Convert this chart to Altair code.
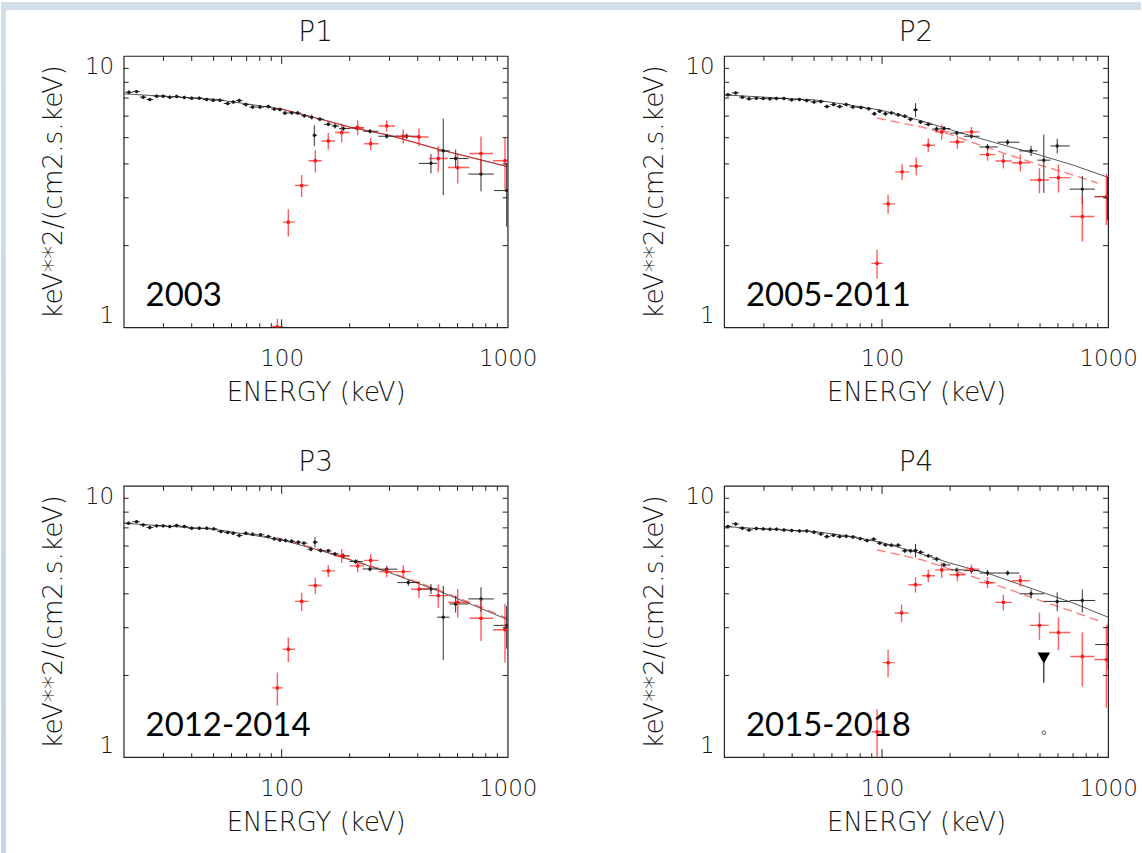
import altair as alt
import numpy as np
import pandas as pd

# ---------------- data ----------------
PANEL_TITLES = ["P1", "P2", "P3", "P4"]
YEARS = ["2003", "2005-2011", "2012-2014", "2015-2018"]

# P1 (2003)
P1_BLACK_E = [21.1, 22.8, 24.4, 26.1, 28.0, 29.9, 32.0, 34.3, 37.1, 40.0,
              43.2, 46.6, 49.8, 53.3, 57.7, 61.1, 64.9, 69.5, 74.4, 80.2,
              87.3, 92.8, 98.3, 103.4, 110.7, 117.7, 126.0, 135.8, 139.5, 147.7,
              160.8, 172.2, 187.4, 214.7, 245.9, 291.5, 357.3, 457.7, 518.8, 588.7,
              762, 990]
P1_BLACK_F = [7.35, 7.39, 7.05, 6.91, 7.11, 7.11, 7.05, 7.09, 7.03, 6.99,
              6.99, 6.91, 6.87, 6.87, 6.68, 6.77, 6.85, 6.62, 6.48, 6.48,
              6.51, 6.37, 6.35, 6.16, 6.17, 6.16, 6.02, 5.95, 5.10, 5.85,
              5.60, 5.52, 5.40, 5.43, 5.28, 5.06, 5.06, 4.02, 4.47, 4.19,
              3.67, 3.19]
P1_BLACK_ERR = [0.10, 0.10, 0.10, 0.10, 0.10, 0.10, 0.10, 0.10, 0.10, 0.10,
                0.10, 0.10, 0.10, 0.10, 0.10, 0.10, 0.10, 0.10, 0.10, 0.10,
                0.10, 0.10, 0.10, 0.10, 0.10, 0.10, 0.10, 0.12, 0.45, 0.10,
                0.10, 0.12, 0.10, 0.10, 0.10, 0.10, 0.12, 0.33, 1.40, 0.33,
                0.50, 0.84]
P1_RED_E = [95.7, 107, 122.6, 140.9, 160.8, 184.3, 216.9, 247.6, 291.5, 345.2, 405, 493, 601, 762, 973]
P1_RED_F = [1.004, 2.44, 3.33, 4.11, 4.86, 5.22, 5.44, 4.75, 5.52, 5.06, 5.03, 4.19, 3.88, 4.37, 4.11]
P1_RED_ERR = [0.07, 0.28, 0.31, 0.39, 0.34, 0.42, 0.34, 0.25, 0.26, 0.30, 0.38, 0.46, 0.49, 0.68, 0.90]
P1_MODEL_E = [20, 30, 50, 70, 100, 150, 200, 300, 500, 700, 1000]
P1_MODEL_F = [7.25, 7.11, 6.93, 6.66, 6.37, 5.84, 5.47, 5.10, 4.52, 4.21, 3.91]
P1_RMODEL_E = [95, 100, 150, 200, 300, 500, 700, 1000]
P1_RMODEL_F = [6.42, 6.37, 5.84, 5.47, 5.10, 4.52, 4.21, 3.91]

# P2 (2005-2011)
P2_BLACK_E = [20.8, 22.5, 24.1, 25.8, 27.8, 29.8, 31.9, 34.1, 36.8, 39.8,
              43.1, 46.4, 50.0, 53.6, 57.0, 61.0, 64.9, 69.4, 74.3, 80.7,
              87.3, 92.4, 97.6, 103.5, 110.0, 117.8, 126.1, 133.6, 140.6, 148.0,
              160.1, 174.4, 187.9, 214.0, 248.6, 292.9, 359.4, 456.3, 519.5, 595.4,
              769, 993]
P2_BLACK_F = [7.19, 7.31, 7.05, 6.95, 6.99, 6.97, 6.95, 6.97, 6.97, 6.89,
              6.91, 6.85, 6.77, 6.79, 6.51, 6.62, 6.51, 6.62, 6.48, 6.46,
              6.39, 6.12, 6.26, 6.12, 6.17, 6.07, 6.00, 5.84, 6.33, 5.71,
              5.60, 5.38, 5.40, 5.20, 5.06, 4.62, 4.81, 4.47, 4.13, 4.66,
              3.23, 3.03]
P2_BLACK_ERR = [0.10, 0.10, 0.10, 0.10, 0.10, 0.10, 0.10, 0.10, 0.10, 0.10,
                0.10, 0.10, 0.10, 0.10, 0.10, 0.10, 0.10, 0.10, 0.10, 0.10,
                0.10, 0.10, 0.10, 0.10, 0.10, 0.10, 0.10, 0.10, 0.37, 0.10,
                0.10, 0.12, 0.12, 0.10, 0.10, 0.12, 0.12, 0.19, 1.00, 0.29,
                0.38, 0.55]
P2_RED_E = [95.0, 106.3, 122.7, 141.6, 160.1, 183.5, 215.4, 248.6, 292.9, 343.9, 409, 497, 603, 769, 983]
P2_RED_F = [1.72, 2.85, 3.74, 3.93, 4.69, 5.25, 4.82, 5.25, 4.33, 4.10, 4.04, 3.49, 3.56, 2.56, 3.03]
P2_RED_ERR = [0.21, 0.23, 0.25, 0.30, 0.27, 0.34, 0.27, 0.22, 0.22, 0.25, 0.29, 0.37, 0.42, 0.49, 0.65]
P2_MODEL_E = [20, 30, 50, 70, 100, 150, 200, 300, 500, 700, 1000]
P2_MODEL_F = [7.19, 7.05, 6.89, 6.62, 6.30, 5.76, 5.35, 4.85, 4.31, 3.96, 3.57]
P2_RMODEL_E = [95, 150, 200, 300, 500, 700, 900]
P2_RMODEL_F = [5.90, 5.47, 5.14, 4.56, 3.96, 3.64, 3.40]

# P3 (2012-2014)
P3_BLACK_E = [21.0, 22.8, 24.4, 26.1, 28.0, 29.9, 32.0, 34.3, 37.1, 40.0,
              43.2, 46.6, 50.1, 53.9, 57.7, 61.1, 64.9, 69.5, 74.4, 80.7,
              87.3, 92.8, 98.3, 104.1, 110.7, 118.5, 125.5, 134.8, 140.4, 148.7,
              160.8, 172.2, 187.4, 212.5, 245.9, 291.5, 363.4, 457.7, 518.8, 588.7,
              762, 990]
P3_BLACK_F = [7.28, 7.38, 7.18, 7.02, 7.12, 7.12, 7.08, 7.14, 7.08, 6.98,
              6.98, 6.98, 6.94, 6.79, 6.73, 6.69, 6.56, 6.69, 6.63, 6.60,
              6.50, 6.38, 6.32, 6.29, 6.25, 6.20, 6.15, 5.84, 6.20, 5.78,
              5.76, 5.61, 5.52, 5.26, 4.94, 4.93, 4.40, 4.17, 3.28, 3.67,
              3.83, 3.06]
P3_BLACK_ERR = [0.10, 0.10, 0.10, 0.10, 0.10, 0.10, 0.10, 0.10, 0.10, 0.10,
                0.10, 0.10, 0.10, 0.10, 0.10, 0.10, 0.10, 0.10, 0.10, 0.10,
                0.10, 0.10, 0.10, 0.10, 0.10, 0.10, 0.10, 0.10, 0.27, 0.10,
                0.10, 0.10, 0.12, 0.10, 0.10, 0.12, 0.12, 0.18, 1.00, 0.26,
                0.40, 0.55]
P3_RED_E = [95.7, 107, 122.6, 140.9, 160.8, 184.3, 216.9, 247.6, 291.5, 345.2, 405, 493, 601, 762, 973]
P3_RED_F = [1.80, 2.50, 3.75, 4.29, 4.86, 5.52, 5.07, 5.31, 4.83, 4.83, 4.16, 3.94, 3.72, 3.25, 2.95]
P3_RED_ERR = [0.25, 0.26, 0.29, 0.30, 0.25, 0.33, 0.28, 0.28, 0.23, 0.27, 0.30, 0.39, 0.45, 0.57, 0.72]
P3_MODEL_E = [20, 30, 50, 70, 100, 150, 200, 300, 500, 700, 1000]
P3_MODEL_F = [7.28, 7.12, 6.92, 6.63, 6.32, 5.76, 5.34, 4.79, 4.08, 3.64, 3.21]
P3_RMODEL_E = [95, 150, 200, 300, 500, 700, 1000]
P3_RMODEL_F = [6.45, 5.80, 5.36, 4.82, 4.12, 3.68, 3.24]

# P4 (2015-2018)
P4_BLACK_E = [20.8, 22.5, 24.1, 25.8, 27.8, 29.8, 31.9, 34.1, 36.8, 39.8,
              43.1, 46.4, 50.0, 53.6, 57.0, 61.0, 64.9, 69.4, 74.3, 80.1,
              85.8, 91.8, 97.6, 103.5, 110.0, 117.8, 126.1, 133.6, 140.6, 148.0,
              160.1, 174.4, 187.9, 214.0, 248.6, 292.9, 359.4, 456.3, 595.4, 769,
              1000]
P4_BLACK_F = [7.08, 7.24, 6.98, 6.88, 6.96, 6.94, 6.92, 6.92, 6.88, 6.84,
              6.82, 6.82, 6.75, 6.65, 6.50, 6.58, 6.50, 6.52, 6.48, 6.39,
              6.29, 6.36, 6.15, 6.06, 6.04, 6.04, 5.76, 5.76, 5.78, 5.69,
              5.52, 5.37, 5.11, 4.90, 4.87, 4.77, 4.77, 4.00, 3.75, 3.78,
              2.60]
P4_BLACK_ERR = [0.10, 0.10, 0.10, 0.10, 0.10, 0.10, 0.10, 0.10, 0.10, 0.10,
                0.10, 0.10, 0.10, 0.10, 0.10, 0.10, 0.10, 0.10, 0.10, 0.10,
                0.10, 0.10, 0.10, 0.10, 0.10, 0.10, 0.10, 0.10, 0.33, 0.10,
                0.10, 0.10, 0.10, 0.10, 0.10, 0.12, 0.10, 0.15, 0.30, 0.37,
                0.50]
P4_RED_E = [95.0, 106.3, 121.9, 140.6, 160.1, 183.5, 215.4, 248.6, 292.9, 343.9, 409, 497, 603, 769, 983]
P4_RED_F = [1.24, 2.23, 3.40, 4.32, 4.66, 4.90, 4.70, 4.93, 4.40, 3.72, 4.47, 3.06, 2.88, 2.35, 2.29]
P4_RED_ERR = [0.26, 0.26, 0.25, 0.28, 0.25, 0.33, 0.25, 0.20, 0.21, 0.25, 0.22, 0.35, 0.40, 0.53, 0.77]
P4_MODEL_E = [20, 30, 50, 70, 100, 150, 200, 300, 500, 700, 1000]
P4_MODEL_F = [7.08, 6.94, 6.79, 6.54, 6.18, 5.61, 5.19, 4.73, 4.08, 3.70, 3.28]
P4_RMODEL_E = [95, 150, 200, 300, 500, 700, 930]
P4_RMODEL_F = [5.81, 5.34, 4.93, 4.40, 3.78, 3.44, 3.16]
# P4 upper limit (black) and the faint point beneath it
P4_LIMIT_E = [519.5]
P4_LIMIT_F = [2.32]
P4_LIMIT_LOW = [1.88]
P4_FAINT_E = [519.5]
P4_FAINT_F = [1.23]

X_MINOR_TICKS = [30, 40, 50, 60, 70, 80, 90, 200, 300, 400, 500, 600, 700, 800, 900]
X_MAJOR_TICKS = [100]
Y_MINOR_TICKS = [2, 3, 4, 5, 6, 7, 8, 9]
X_LABELS = [100, 1000]
Y_LABELS = [1, 10]

PANELS = [
    (P1_BLACK_E, P1_BLACK_F, P1_BLACK_ERR, P1_RED_E, P1_RED_F, P1_RED_ERR,
     P1_MODEL_E, P1_MODEL_F, P1_RMODEL_E, P1_RMODEL_F, False),
    (P2_BLACK_E, P2_BLACK_F, P2_BLACK_ERR, P2_RED_E, P2_RED_F, P2_RED_ERR,
     P2_MODEL_E, P2_MODEL_F, P2_RMODEL_E, P2_RMODEL_F, True),
    (P3_BLACK_E, P3_BLACK_F, P3_BLACK_ERR, P3_RED_E, P3_RED_F, P3_RED_ERR,
     P3_MODEL_E, P3_MODEL_F, P3_RMODEL_E, P3_RMODEL_F, True),
    (P4_BLACK_E, P4_BLACK_F, P4_BLACK_ERR, P4_RED_E, P4_RED_F, P4_RED_ERR,
     P4_MODEL_E, P4_MODEL_F, P4_RMODEL_E, P4_RMODEL_F, True),
]

# ---------------- styling ----------------
W, H = 385, 272
FONT = "DejaVu Sans"
TXT = "#141414"
BLACK = "#1a1a1a"
RED = "#ff1a1a"

XS = alt.Scale(type="log", domain=[20, 1000], nice=False)
YS = alt.Scale(type="log", domain=[1, 10], nice=False)

XAXIS = alt.Axis(
    title="ENERGY (keV)", values=X_LABELS, labelExpr="format(datum.value, 'd')",
    ticks=False, tickSize=0, domain=False, grid=False, labelFlush=False,
    labelOverlap=False, labelFont=FONT, labelFontSize=23, labelColor=TXT,
    labelFontWeight=300, labelBaseline="alphabetic", labelPadding=38,
    titleFont=FONT, titleFontSize=26, titleFontWeight=300, titleColor=TXT,
    titleX=W / 2, titleY=73.5, titleBaseline="alphabetic", titleAlign="center",
)
YAXIS = alt.Axis(
    title="keV**2/(cm2.s.keV)", values=Y_LABELS, labelExpr="format(datum.value, 'd')",
    ticks=False, tickSize=0, domain=False, grid=False, labelFlush=True,
    labelOverlap=False, labelFont=FONT, labelFontSize=23, labelColor=TXT,
    labelFontWeight=300, labelPadding=10,
    titleFont=FONT, titleFontSize=26.5, titleFontWeight=300, titleColor=TXT,
    titleX=-62, titleY=H / 2, titleAngle=270, titleBaseline="alphabetic",
    titleAlign="center",
)


def X(f):
    return alt.X(f, type="quantitative", scale=XS, axis=XAXIS)


def Y(f):
    return alt.Y(f, type="quantitative", scale=YS, axis=YAXIS)


def bins(E):
    E = np.asarray(E, float)
    mids = np.sqrt(E[:-1] * E[1:])
    lo = np.concatenate([[E[0] ** 2 / mids[0]], mids])
    hi = np.concatenate([mids, [E[-1] ** 2 / mids[-1]]])
    return lo, hi


def points_table(E, F, ERR):
    lo, hi = bins(E)
    F = np.asarray(F, float)
    ERR = np.asarray(ERR, float)
    return pd.DataFrame({"E": E, "F": F, "Elo": lo, "Ehi": hi,
                         "Flo": F - ERR, "Fhi": F + ERR})


def crosses(df, color, width, opacity, size):
    base = alt.Chart(df)
    h = base.mark_rule(color=color, strokeWidth=width, opacity=opacity, clip=True).encode(
        x=X("Elo"), x2=alt.X2("Ehi"), y=Y("F"))
    v = base.mark_rule(color=color, strokeWidth=width, opacity=opacity, clip=True).encode(
        x=X("E"), y=Y("Flo"), y2=alt.Y2("Fhi"))
    p = base.mark_circle(color=color, size=size, opacity=1, clip=True).encode(
        x=X("E"), y=Y("F"))
    return [h, v, p]


def tick_layers():
    xmin = alt.Chart(pd.DataFrame({"v": X_MINOR_TICKS}))
    xmaj = alt.Chart(pd.DataFrame({"v": X_MAJOR_TICKS}))
    ymin = alt.Chart(pd.DataFrame({"v": Y_MINOR_TICKS}))
    st = dict(color="#222222", strokeWidth=1)
    return [
        xmin.mark_rule(**st).encode(x=X("v"), y=alt.value(0), y2=alt.value(5)),
        xmin.mark_rule(**st).encode(x=X("v"), y=alt.value(H - 4), y2=alt.value(H)),
        xmaj.mark_rule(**st).encode(x=X("v"), y=alt.value(0), y2=alt.value(8)),
        xmaj.mark_rule(**st).encode(x=X("v"), y=alt.value(H - 8), y2=alt.value(H)),
        ymin.mark_rule(**st).encode(y=Y("v"), x=alt.value(0), x2=alt.value(5)),
        ymin.mark_rule(**st).encode(y=Y("v"), x=alt.value(W - 5), x2=alt.value(W)),
    ]


def background_bands():
    one = alt.Chart(pd.DataFrame({"d": [0]}))
    grad = alt.LinearGradient(
        gradient="linear", x1=0, x2=0, y1=0, y2=1,
        stops=[alt.GradientStop(color="#d3dee8", offset=0),
               alt.GradientStop(color="#bcd6ee", offset=1)])
    top = one.mark_rect(color="#d3dee8").encode(
        x=alt.value(-123), x2=alt.value(1020), y=alt.value(-54), y2=alt.value(-46))
    left = one.mark_rect(fill=grad).encode(
        x=alt.value(-123), x2=alt.value(-118), y=alt.value(-54), y2=alt.value(800))
    return [top, left]


charts = []
for i, (bE, bF, bErr, rE, rF, rErr, mE, mF, rmE, rmF, dashed) in enumerate(PANELS):
    layers = []
    if i == 0:
        layers += background_bands()
    black = points_table(bE, bF, bErr)
    red = points_table(rE, rF, rErr)
    model = pd.DataFrame({"E": mE, "F": mF})
    rmodel = pd.DataFrame({"E": rmE, "F": rmF})
    layers.append(alt.Chart(model).mark_line(color="#555555", strokeWidth=1, clip=True).encode(
        x=X("E"), y=Y("F")))
    rline = dict(color=RED, strokeWidth=1.3, opacity=0.6, clip=True)
    if dashed:
        rline["strokeDash"] = [9, 5]
    layers.append(alt.Chart(rmodel).mark_line(**rline).encode(x=X("E"), y=Y("F")))
    layers += crosses(black, BLACK, 1, 0.9, 12)
    layers += crosses(red, RED, 1.4, 0.7, 14)
    if i == 3:
        lim = pd.DataFrame({"E": P4_LIMIT_E, "F": P4_LIMIT_F, "Flo": P4_LIMIT_LOW})
        layers.append(alt.Chart(lim).mark_rule(color=BLACK, strokeWidth=1.2).encode(
            x=X("E"), y=Y("Flo"), y2=alt.Y2("F")))
        layers.append(alt.Chart(lim).mark_point(shape="triangle-down", filled=True, size=160,
                                                color="black", opacity=1).encode(
            x=X("E"), y=Y("F")))
        faint = pd.DataFrame({"E": P4_FAINT_E, "F": P4_FAINT_F})
        layers.append(alt.Chart(faint).mark_point(shape="circle", filled=False, size=14,
                                                  color=BLACK, strokeWidth=1).encode(
            x=X("E"), y=Y("F")))
    layers += tick_layers()
    yr = pd.DataFrame({"x": [25], "y": [1.2], "t": [YEARS[i]]})
    layers.append(alt.Chart(yr).mark_text(font="Lato", fontSize=33, align="left",
                                          baseline="alphabetic", color="black").encode(
        x=X("x"), y=Y("y"), text="t:N"))
    ttl = pd.DataFrame({"t": [PANEL_TITLES[i]]})
    layers.append(alt.Chart(ttl).mark_text(font=FONT, fontSize=28, fontWeight=300, color=TXT,
                                           align="center", baseline="alphabetic").encode(
        x=alt.value(W / 2), y=alt.value(-15), text="t:N"))
    ch = alt.layer(*layers).properties(width=W, height=H)
    charts.append(ch)

chart = alt.concat(*charts, columns=2, spacing={"row": 159, "column": 217},
                   bounds="flush").properties(padding=0, background="white")
chart = chart.configure_view(stroke="#222222", strokeWidth=1.2)

chart.save("out.html", embed_options={"renderer": "svg", "actions": False})
